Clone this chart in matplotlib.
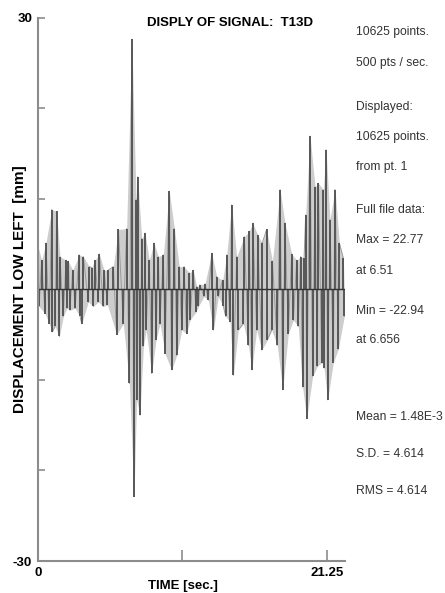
#!/usr/bin/env python3

import numpy as np
import matplotlib
matplotlib.use('Agg')
import matplotlib.pyplot as plt

plt.rcParams['font.family'] = ['Liberation Sans', 'DejaVu Sans']

# positive peaks of the trace (time [s], displacement [mm])
pos_t = [0.04, 0.27, 0.57, 0.97, 1.31, 1.54, 1.96, 2.12, 2.42, 2.88, 3.16, 3.57, 3.73,
         3.96, 4.26, 4.59, 4.88, 5.23, 5.58, 6.15, 6.51, 6.80, 6.91, 7.19, 7.42, 7.72,
         8.04, 8.34, 8.69, 9.10, 9.45, 9.79, 10.12, 10.49, 10.76, 10.99, 11.22, 11.57,
         12.03, 12.38, 12.79, 13.07, 13.41, 13.76, 14.29, 14.63, 14.87, 15.21, 15.53,
         15.83, 16.23, 16.76, 17.10, 17.56, 17.91, 18.18, 18.42, 18.53, 18.83, 19.18,
         19.41, 19.75, 19.94, 20.21, 20.56, 20.86, 21.14]
pos_v = [4.6, 3.2, 5.1, 8.8, 8.6, 3.6, 3.2, 3.1, 2.1, 3.8, 3.6, 2.5, 2.4,
         3.2, 3.9, 2.1, 2.1, 2.5, 6.6, 6.7, 27.6, 9.9, 12.4, 5.6, 6.2, 3.2,
         5.1, 3.6, 3.8, 10.8, 6.7, 2.5, 2.5, 1.8, 2.1, 0.3, 0.5, 0.6,
         4.0, 1.4, 1.0, 3.8, 9.3, 3.6, 5.8, 6.4, 7.3, 6.0, 5.1,
         6.6, 3.1, 11.0, 7.3, 3.9, 3.2, 3.6, 3.4, 8.2, 16.9, 11.3,
         11.7, 11.0, 15.4, 7.7, 11.0, 5.1, 3.4]

# negative peaks
neg_t = [0.10, 0.51, 0.80, 1.01, 1.20, 1.50, 1.77, 2.02, 2.23, 2.58, 2.93, 3.04, 3.50,
         3.85, 4.19, 4.54, 4.82, 5.46, 5.92, 6.34, 6.656, 6.84, 7.07, 7.31, 7.50, 7.88,
         8.18, 8.46, 8.80, 9.26, 9.61, 9.96, 10.30, 10.53, 10.95, 11.11, 11.50, 11.80,
         12.15, 12.49, 12.84, 13.00, 13.30, 13.53, 13.87, 14.22, 14.57, 14.80, 15.14,
         15.49, 15.88, 16.18, 16.57, 16.94, 17.33, 17.68, 18.02, 18.32, 18.60, 19.01,
         19.34, 19.64, 19.80, 20.05, 20.44, 20.79, 21.20]
neg_v = [-1.9, -2.7, -3.8, -4.7, -4.1, -5.2, -3.0, -2.1, -2.3, -2.1, -3.0, -3.8, -1.4,
         -1.9, -1.4, -1.9, -1.7, -5.0, -3.8, -10.4, -22.9, -12.2, -13.9, -6.3, -4.5, -9.3,
         -5.6, -3.8, -7.1, -8.9, -7.3, -4.5, -4.9, -3.4, -2.5, -1.9, -0.8, -1.2,
         -4.5, -0.8, -1.9, -3.0, -3.6, -9.5, -4.5, -3.8, -6.2, -8.9, -4.5,
         -6.7, -5.6, -4.5, -6.2, -11.1, -4.9, -3.4, -4.1, -10.8, -14.3, -9.6,
         -8.5, -8.1, -8.7, -12.2, -8.1, -6.6, -3.0]

info = ['10625 points.', '500 pts / sec.', 'Displayed:', '10625 points.', 'from pt. 1',
        'Full file data:', 'Max = 22.77', 'at 6.51', 'Min = -22.94', 'at 6.656',
        'Mean = 1.48E-3', 'S.D. = 4.614', 'RMS = 4.614']
info_y = [32, 63, 107, 137, 167, 210, 240, 271, 311, 340, 417, 454, 491]

W, H = 445, 593
fig = plt.figure(figsize=(W / 100, H / 100), dpi=100)
ax = fig.add_axes([37.7 / W, 1 - 561 / H, (345 - 37.7) / W, (561 - 17.5) / H])

t = np.concatenate([pos_t, neg_t])
v = np.concatenate([pos_v, neg_v])
order = np.argsort(t)
t, v = t[order], v[order]

# the dense oscillation reads as a grey band with darker strokes at the peaks
ax.fill_between(pos_t, 0, pos_v, color='#cdcdcd', lw=0)
ax.fill_between(neg_t, 0, neg_v, color='#cdcdcd', lw=0)
ax.plot(t, v, color='#9a9a9a', lw=0.7)
ax.vlines(t, 0, v, color='#505050', lw=1.3)
ax.axhline(0, color='#333333', lw=1.0)

ax.set_xlim(0, 21.25)
ax.set_ylim(-30, 30)
for s in ['top', 'right']:
    ax.spines[s].set_visible(False)
for s in ['left', 'bottom']:
    ax.spines[s].set_color('#8c8c8c')
    ax.spines[s].set_linewidth(1.5)

ax.set_xticks([0, 10, 20])
ax.set_xticklabels(['0', '', '21.25'])
ax.set_yticks([-30, -20, -10, 10, 20, 30])
ax.set_yticklabels(['-30', '', '', '', '', '30'])
ax.tick_params(direction='in', color='#8c8c8c', width=1.2, labelsize=9.5)
ax.tick_params(axis='x', length=8, pad=4)
ax.tick_params(axis='y', length=5, pad=4)
for lab in ax.get_xticklabels() + ax.get_yticklabels():
    lab.set_fontweight('bold')

fig.text(230 / W, 1 - 23 / H, 'DISPLY OF SIGNAL:  T13D', ha='center', va='center',
         fontsize=9.5, fontweight='bold')
fig.text(183 / W, 1 - 586 / H, 'TIME [sec.]', ha='center', va='center',
         fontsize=9.5, fontweight='bold')
fig.text(20 / W, 1 - 289 / H, 'DISPLACEMENT LOW LEFT  [mm]', ha='center', va='center',
         rotation=90, fontsize=11, fontweight='bold')

for s, y in zip(info, info_y):
    fig.text(356 / W, 1 - y / H, s, ha='left', va='center', fontsize=8.7, color='#333333')

fig.savefig('out.png', dpi=100)
